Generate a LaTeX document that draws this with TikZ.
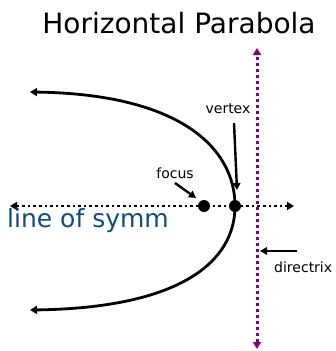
\documentclass[tikz,border=0pt]{standalone}
\usepackage{fontspec}
\setmainfont{DejaVu Sans}
\usetikzlibrary{arrows.meta}
\definecolor{symblue}{RGB}{16,76,132}
\definecolor{dirpurple}{RGB}{128,0,128}
\begin{document}
\begin{tikzpicture}[x=1pt,y=-1pt,
  tip/.style={-{Triangle[length=7pt,width=8pt]}},
  curve/.style={line width=2.8pt},
  pointer/.style={line width=2.4pt,-{Triangle[length=7pt,width=7.5pt]}},
  axisline/.style={line width=2.6pt,dash pattern=on 2.6pt off 3pt,{Triangle[length=7pt,width=8pt]}-{Triangle[length=7pt,width=8pt]}},
  dirline/.style={dirpurple,line width=3pt,dash pattern=on 3pt off 3pt,{Triangle[length=7pt,width=8pt]}-{Triangle[length=7pt,width=8pt]}},
  dot/.style={circle,fill=black,inner sep=0pt,minimum size=12pt},
  lbl/.style={font=\fontsize{14}{16}\selectfont,inner sep=0pt,anchor=base}]
\useasboundingbox (0,0) rectangle (336,351);
% title
\node[inner sep=0pt,anchor=base,font=\fontsize{28}{32}\selectfont] (title) at (179,33) {Horizontal Parabola};
% directrix
\coordinate (dtop) at (257,48);
\coordinate (dbot) at (257,349);
\draw[dirline] (dbot) -- (dtop);
% axis
\coordinate (axL) at (10,206);
\coordinate (axR) at (294,206);
\draw[axisline] (axL) -- (axR);
% parabola
\coordinate (V0) at (235,206);
\coordinate (upEnd) at (30,92);
\coordinate (loEnd) at (30,310);
\draw[curve,tip] (V0) .. controls (235,148) and (180,94) .. (upEnd);
\draw[curve,tip] (V0) .. controls (235,262) and (180,308) .. (loEnd);
% points
\node[dot] (F) at (204,206) {};
\node[dot] (V) at (235,206) {};
% labels
\node[lbl] (vlab) at (228,113) {vertex};
\node[lbl] (flab) at (175,178) {focus};
\node[lbl,anchor=base west] (dlab) at (274,272) {directrix};
\node[inner sep=0pt,anchor=base west,text=symblue,font=\fontsize{25}{28}\selectfont] (slab) at (7,227) {line of symm};
% pointers
\coordinate (vfrom) at (234,123);
\coordinate (ffrom) at (175,183);
\coordinate (dfrom) at (297,251);
\coordinate (dto) at (260,251);
\draw[pointer] (vfrom) -- (237,190);
\draw[pointer] (ffrom) -- (196,198);
\draw[pointer] (dfrom) -- (dto);
\end{tikzpicture}
\end{document}
